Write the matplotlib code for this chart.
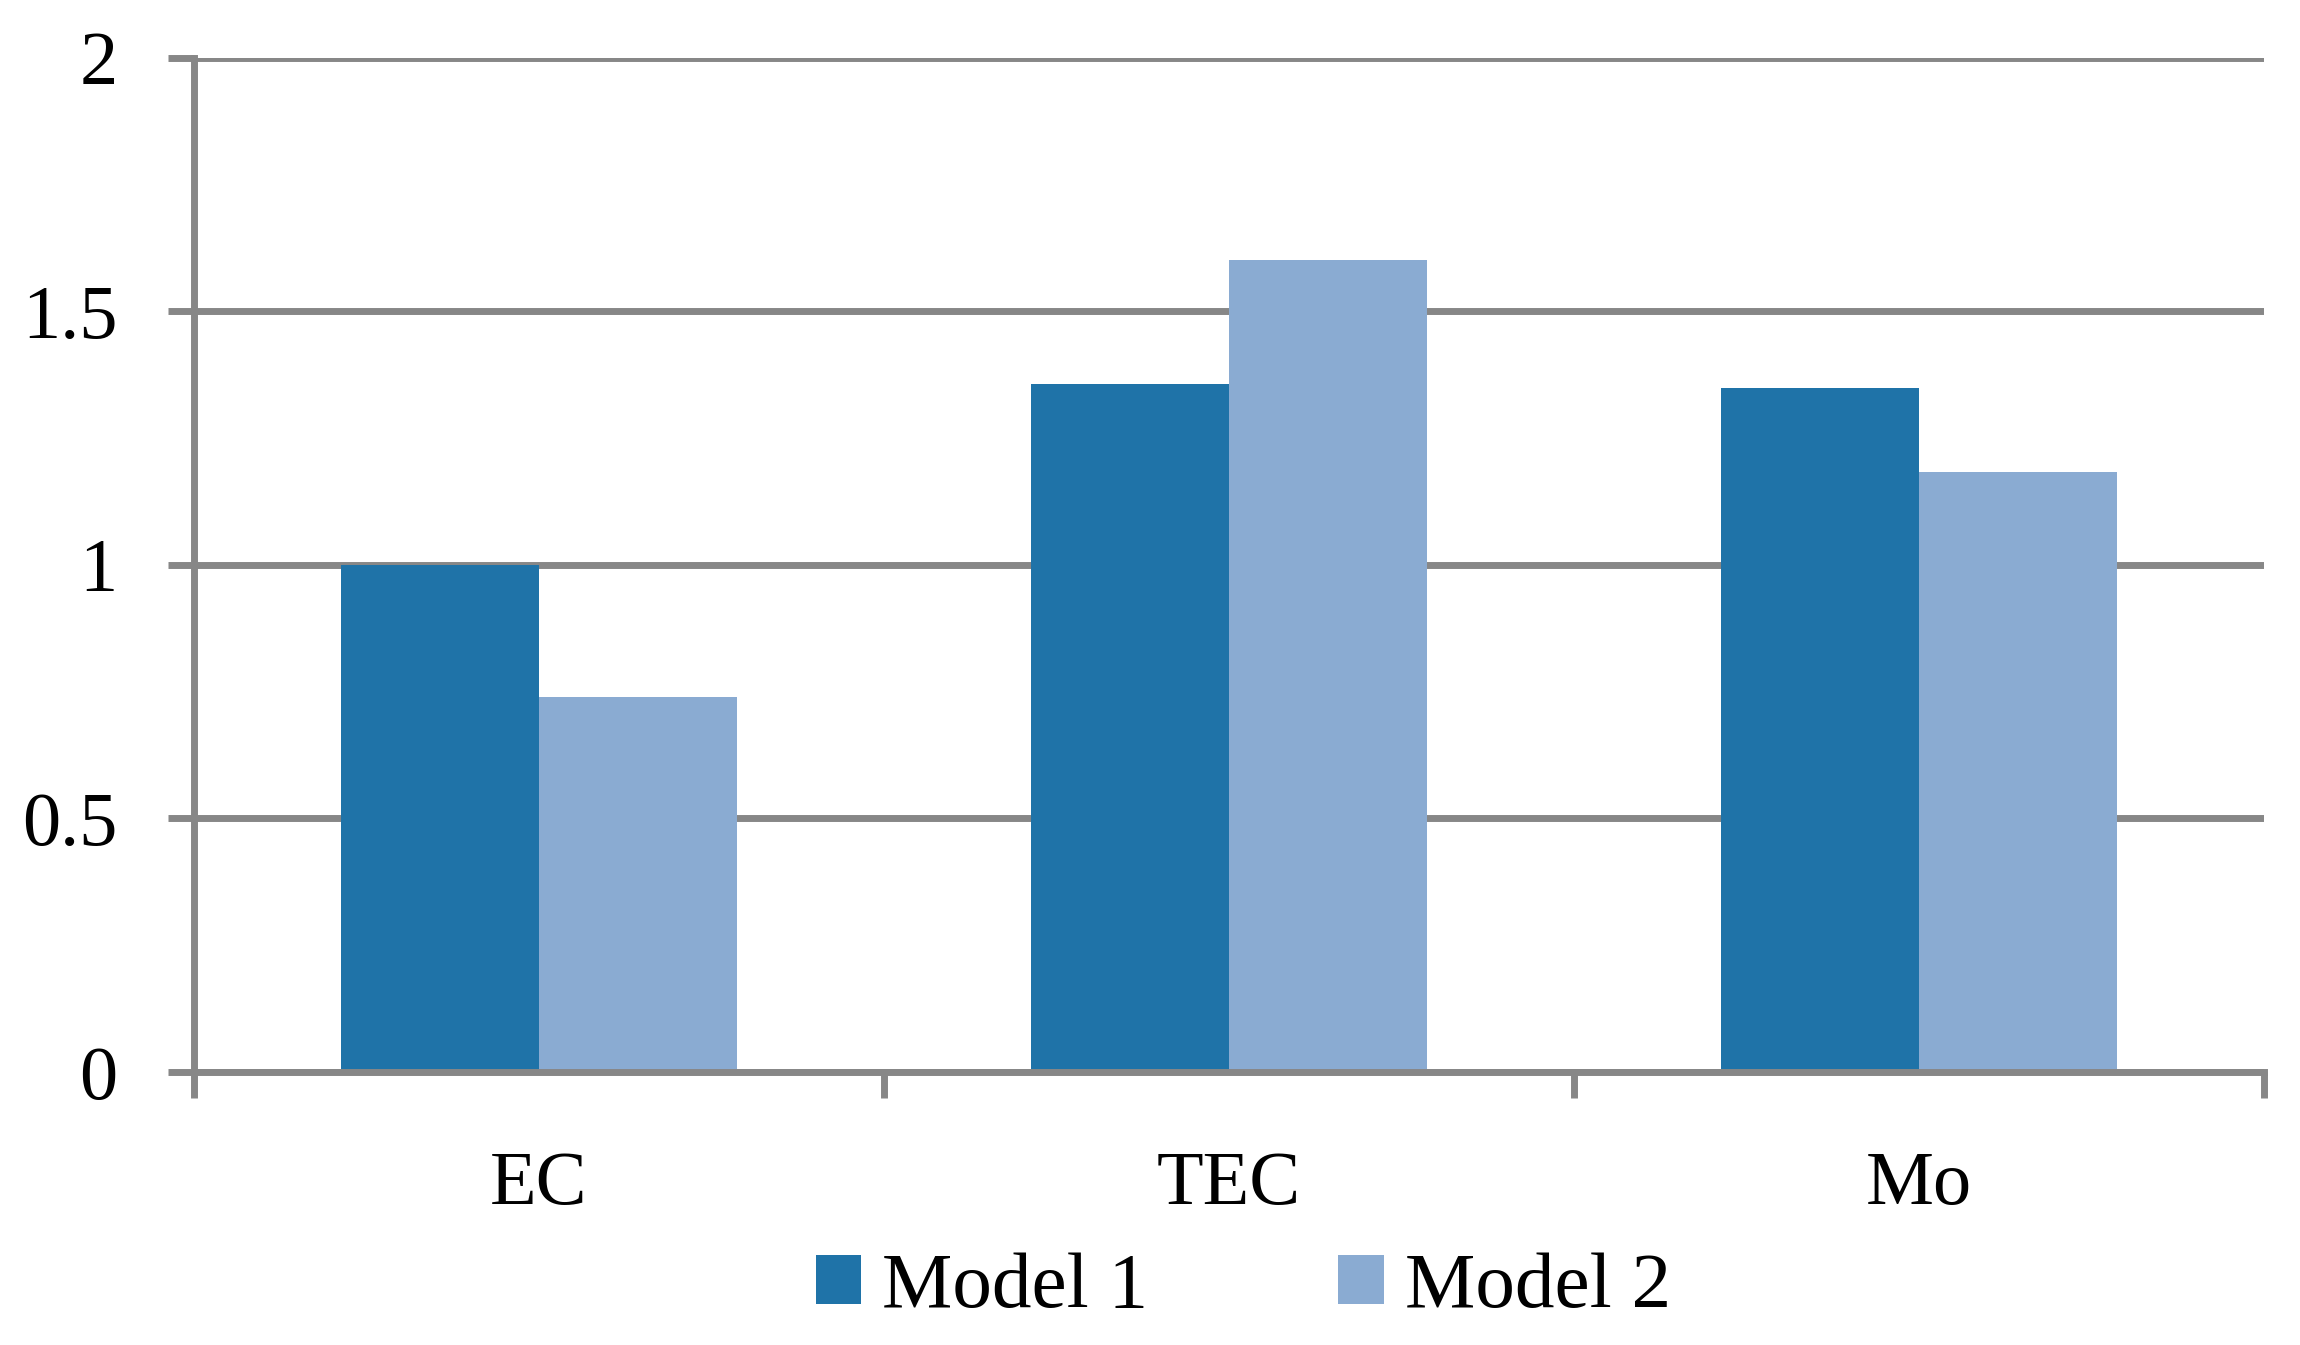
import numpy as np
import matplotlib
matplotlib.use("Agg")
import matplotlib.pyplot as plt

# data
categories = ["EC", "TEC", "Mo"]
model1 = [1.0, 1.357, 1.349]
model2 = [0.74, 1.60, 1.183]
series_names = ["Model 1", "Model 2"]
yticks = [0, 0.5, 1, 1.5, 2]
ytick_labels = ["0", "0.5", "1", "1.5", "2"]

c1 = "#1f73a8"
c2 = "#8aabd2"
grey = "#878787"

plt.rcParams["font.family"] = ["Liberation Serif", "DejaVu Serif"]

fig = plt.figure(figsize=(23, 13.45), dpi=100)
ax = fig.add_axes([194 / 2300, 1 - 1072 / 1345, 2070 / 2300, (1072 - 57.5) / 1345])

x = np.arange(len(categories))
w = 0.287
ax.bar(x - w / 2, model1, w, color=c1, label=series_names[0], zorder=3)
ax.bar(x + w / 2, model2, w, color=c2, label=series_names[1], zorder=3)

ax.set_xlim(-0.5, len(categories) - 0.5)
ax.set_ylim(0, 2)

ax.set_yticks(yticks)
ax.set_yticklabels(ytick_labels)
ax.yaxis.grid(True, color=grey, linewidth=5, zorder=1)

# category labels between the boundary ticks
ax.set_xticks(np.arange(len(categories) + 1) - 0.5)
ax.set_xticklabels([])
ax.set_xticks(x, minor=True)
ax.set_xticklabels(categories, minor=True)

ax.tick_params(axis="y", which="major", direction="out", length=19, width=5,
               color=grey, labelsize=55, pad=36)
ax.tick_params(axis="x", which="major", direction="out", length=19, width=5,
               color=grey)
ax.tick_params(axis="x", which="minor", length=0, labelsize=55, pad=57)

for s in ["top", "right"]:
    ax.spines[s].set_visible(False)
for s in ["left", "bottom"]:
    ax.spines[s].set_color(grey)
    ax.spines[s].set_linewidth(5)
    ax.spines[s].set_zorder(4)

fig.legend(loc="center", bbox_to_anchor=(0.5405, 0.042), ncol=2, frameon=False,
           fontsize=57, handlelength=0.58, handleheight=0.58,
           handletextpad=0.26, columnspacing=2.4, borderpad=0)

fig.savefig("out.png", dpi=100)
